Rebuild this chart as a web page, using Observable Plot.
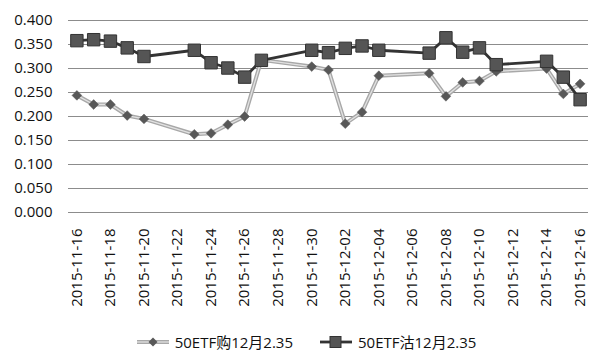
<!DOCTYPE html>
<html>
<head>
<meta charset="utf-8">
<script src="https://cdn.jsdelivr.net/npm/d3@7"></script>
<script src="https://cdn.jsdelivr.net/npm/@observablehq/plot@0.6"></script>
<style>
  html, body { margin: 0; padding: 0; background: #fff; }
  #wrap { width: 600px; height: 363px; font-family: "Open Sans", "Noto Sans CJK SC", sans-serif; }
  #legend { height: 43px; display: flex; justify-content: center; align-items: center; font-size: 15px; color: #111; padding-left: 12px; box-sizing: border-box; }
  .item { display: flex; align-items: center; margin: 0 13px; }
  .item svg { margin-right: 5px; }
</style>
</head>
<body>
<div id="wrap"></div>
<script>
const dates = ["2015-11-16","2015-11-17","2015-11-18","2015-11-19","2015-11-20","2015-11-23","2015-11-24","2015-11-25","2015-11-26","2015-11-27","2015-11-30","2015-12-01","2015-12-02","2015-12-03","2015-12-04","2015-12-07","2015-12-08","2015-12-09","2015-12-10","2015-12-11","2015-12-14","2015-12-15","2015-12-16"];
const callValues = [0.244,0.225,0.225,0.202,0.195,0.163,0.165,0.183,0.200,0.318,0.304,0.297,0.185,0.209,0.285,0.290,0.242,0.271,0.274,0.294,0.300,0.247,0.268];
const putValues  = [0.358,0.360,0.357,0.343,0.325,0.338,0.312,0.301,0.282,0.317,0.338,0.333,0.342,0.347,0.338,0.332,0.364,0.334,0.343,0.308,0.315,0.282,0.235];
const seriesNames = ["50ETF购12月2.35", "50ETF沽12月2.35"];
const xTickLabels = ["2015-11-16","2015-11-18","2015-11-20","2015-11-22","2015-11-24","2015-11-26","2015-11-28","2015-11-30","2015-12-02","2015-12-04","2015-12-06","2015-12-08","2015-12-10","2015-12-12","2015-12-14","2015-12-16"];
const yTicks = [0, 0.05, 0.1, 0.15, 0.2, 0.25, 0.3, 0.35, 0.4];

const parse = d3.utcParse("%Y-%m-%d");
const callData = dates.map((d, i) => ({date: parse(d), value: callValues[i]}));
const putData = dates.map((d, i) => ({date: parse(d), value: putValues[i]}));
const xTicks = xTickLabels.map(parse);

const chart = Plot.plot({
  width: 600,
  height: 320,
  marginLeft: 68,
  marginRight: 12,
  marginTop: 20,
  marginBottom: 108,
  style: {fontFamily: "'Open Sans', sans-serif", fontSize: "15px", color: "#111", background: "#fff"},
  x: {
    type: "utc",
    domain: [new Date(Date.UTC(2015, 10, 15, 12)), new Date(Date.UTC(2015, 11, 16, 12))],
    ticks: xTicks,
    tickFormat: d3.utcFormat("%Y-%m-%d"),
    tickRotate: -90,
    tickSize: 0,
    tickPadding: 16,
    label: null
  },
  y: {
    domain: [0, 0.4],
    ticks: yTicks,
    tickFormat: d3.format(".3f"),
    tickSize: 0,
    tickPadding: 16,
    label: null
  },
  marks: [
    Plot.ruleY(yTicks, {stroke: "#8c8c8c", strokeWidth: 1}),
    Plot.line(callData, {x: "date", y: "value", stroke: "#a8a8a8", strokeWidth: 4}),
    Plot.line(callData, {x: "date", y: "value", stroke: "#e2e2e2", strokeWidth: 1.3}),
    Plot.dot(callData, {x: "date", y: "value", symbol: "diamond2", r: 4.4, fill: "#585858", stroke: "#585858", strokeWidth: 0.5}),
    Plot.line(putData, {x: "date", y: "value", stroke: "#333", strokeWidth: 2.8}),
    Plot.dot(putData, {x: "date", y: "value", symbol: "square", r: 7, fill: "#555", stroke: "#333", strokeWidth: 1})
  ]
});

const wrap = document.getElementById("wrap");
wrap.appendChild(chart);

const legend = document.createElement("div");
legend.id = "legend";
legend.innerHTML = `
  <div class="item">
    <svg width="34" height="14"><line x1="1" y1="7" x2="33" y2="7" stroke="#a8a8a8" stroke-width="4"/><line x1="1" y1="7" x2="33" y2="7" stroke="#e2e2e2" stroke-width="1.3"/><path d="M17,2.5L21.5,7L17,11.5L12.5,7Z" fill="#585858"/></svg>
    <span>${seriesNames[0]}</span>
  </div>
  <div class="item">
    <svg width="34" height="14"><line x1="1" y1="7" x2="33" y2="7" stroke="#333" stroke-width="2.8"/><rect x="11" y="1.5" width="11" height="11" fill="#555" stroke="#333"/></svg>
    <span>${seriesNames[1]}</span>
  </div>`;
wrap.appendChild(legend);
</script>
</body>
</html>
